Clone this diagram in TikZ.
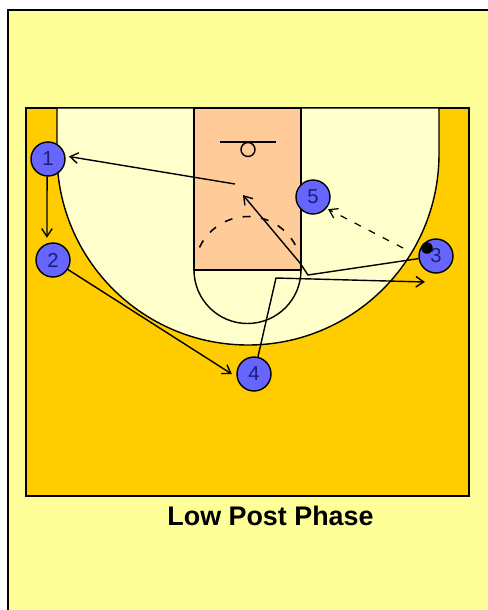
\documentclass[tikz,border=0pt]{standalone}
\usepackage{fontspec}
\setmainfont{Liberation Sans}
\usetikzlibrary{arrows.meta}
\definecolor{paper}{HTML}{FFFF99}
\definecolor{court}{HTML}{FFCC00}
\definecolor{inside}{HTML}{FFFFCC}
\definecolor{lane}{HTML}{FFCC99}
\definecolor{player}{HTML}{6666FF}
\definecolor{digit}{HTML}{1C1C78}
\begin{document}
\begin{tikzpicture}[x=0.02cm,y=-0.02cm,>={Straight Barb[length=4.5pt,width=6pt]},
                    line width=0.8pt,
                    main node/.style={circle,fill=player,draw,line width=0.8pt,inner sep=0pt,minimum size=0.68cm,
                                      text=digit,font=\fontsize{11.5}{12}\selectfont},
                    ball node/.style={circle,fill=black,inner sep=0pt,minimum size=0.23cm}]

  \useasboundingbox (0,0) rectangle (488,610);
  \clip (0,0) rectangle (488,610);

  % paper and court
  \draw[fill=paper,line width=0.9pt] (8,10) rectangle (520,640);
  \draw[fill=court] (26,108) rectangle (469,496);
  \draw[fill=inside] (57,108) -- (57,154) arc[start angle=180,end angle=0,radius=191] -- (439,108) -- cycle;
  \draw[fill=lane] (194,108) rectangle (301,270);
  \draw (194,270) arc[start angle=180,end angle=0,radius=53.5];
  \draw[dash pattern=on 4.5pt off 6pt,line width=0.9pt] (248,270) ++(205:53.5) arc[start angle=205,end angle=332,radius=53.5];
  \draw (220,142) -- (276,142);
  \draw (248,149.5) circle[radius=7];

  % players
  \node[main node] (1) at (48,159) {1};
  \node[main node] (2) at (53,260) {2};
  \node[main node] (3) at (436,256) {3};
  \node[main node] (4) at (254,374) {4};
  \node[main node] (5) at (313,197) {5};
  \node[ball node] (ball) at (427,248) {};

  \coordinate (passstart) at (235,184);
  \coordinate (cutturn) at (308,275);
  \coordinate (cutcorner) at (300,263);
  \coordinate (cutend) at (243,195);
  \coordinate (screenturn) at (276,278);
  \coordinate (screenend) at (425,282);
  \coordinate (dashstart) at (403,248);

  \path[->]
    (1.-93) edge[shorten >=3.2pt] (2.110)
    (2) edge[shorten >=3.2pt] (4.190)
    (passstart) edge[shorten >=2pt] (1.10);
  \path[->,dash pattern=on 4pt off 5pt,line width=0.7pt]
    (dashstart) edge[shorten >=1pt] (5.-40);

  \draw[->] (3) -- (cutturn) -- (cutcorner) -- (cutend);
  \draw[->] (4) -- (screenturn) -- (screenend);

  \node[font=\bfseries\fontsize{15.3}{18}\selectfont] (title) at (270.5,516) {Low Post Phase};

\end{tikzpicture}
\end{document}
